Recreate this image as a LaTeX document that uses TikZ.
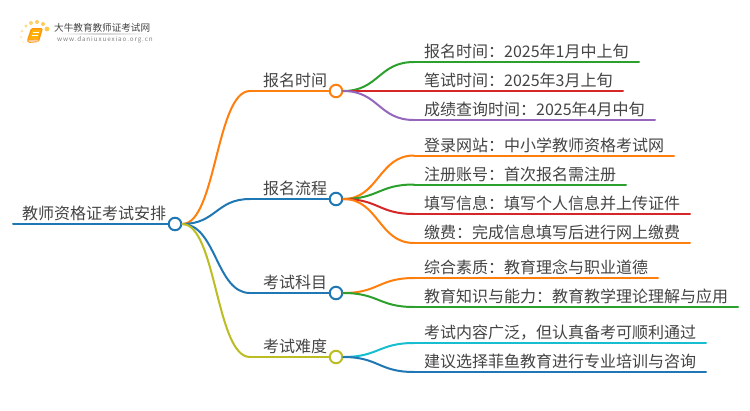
\documentclass[tikz,border=0pt]{standalone}
\usepackage{fontspec}
\setmainfont{Noto Sans CJK SC}
\usetikzlibrary{calc}
\definecolor{cOrange}{HTML}{FF7F0E}
\definecolor{cBlue}{HTML}{1F77B4}
\definecolor{cGreen}{HTML}{2CA02C}
\definecolor{cRed}{HTML}{D62728}
\definecolor{cPurple}{HTML}{9467BD}
\definecolor{cOlive}{HTML}{BCBD22}
\definecolor{cCyan}{HTML}{17BECF}
\definecolor{cText}{HTML}{444444}
\definecolor{cDot}{HTML}{FFC94D}
\tikzset{
  x=1pt,y=-1pt,
  lab/.style={anchor=base west,inner sep=0pt,yshift=-0.7pt,font=\fontsize{16}{16}\selectfont,text=cText},
  hub/.style={circle,draw=#1,fill=white,line width=2pt,minimum size=12.5pt,inner sep=0pt},
  wire/.style={draw=#1,line width=2pt,line cap=round},
}
\newcommand{\curve}[3]{% colour, from node, to coordinate
  \draw[wire=#1] (#2.east) .. controls ($(#2.east)!0.5!(#2.east -| #3)$) and ($(#3)!0.5!(#3 -| #2.east)$) .. (#3);}
\begin{document}
\begin{tikzpicture}
\useasboundingbox (0,0) rectangle (750,410);
\fill[white] (0,0) rectangle (750,410);
% logo
\foreach \px/\py/\r/\o in {47/29/2.4/1,43/24/2/.95,37/22/2/.9,31/23/2/.8,26/26/1.7/.7,22/31/1.5/.5,21/37/1.3/.35,23/42/1.2/.25}
  \fill[cDot,opacity=\o] (\px,\py) circle (\r);
\fill[cOrange!80!yellow,rounded corners=1.5pt] (31,28) -- (43,28) -- (39,42) -- (28,43) -- (27,40) -- cycle;
\fill[white!60!cOrange] (28.5,40) -- (38.5,39.5) -- (38,41.5) -- (28.5,42) -- cycle;
\fill[cOrange!60!yellow] (32,29.5) -- (41,29.5) -- (38,39) -- (29,39) -- cycle;
\draw[white,line width=.6pt] (32.5,32.5) -- (39,32.5);
\draw[white,line width=.6pt] (32,35) -- (38,35);
\shade[left color=white,right color=white,middle color=gray!35] (57,33.2) rectangle (148,34);
\node[anchor=base west,inner sep=0pt,font=\fontsize{9.6}{10}\selectfont,text=cText] (logoa) at (54,31) {大牛教育教师证考试网};
\node[anchor=base west,inner sep=0pt,font=\fontsize{6.3}{6}\selectfont\addfontfeature{LetterSpace=14},text=gray] (logob) at (57,41.5) {www.daniuxuexiao.org.cn};
% root
\node[lab] (root) at (22,219) {教师资格证考试安排};
\coordinate (r0) at (13,224);
\node[hub=cBlue] (c0) at (175,224) {};
% branches
\node[lab] (t1) at (263,86) {报名时间};
\node[lab] (t2) at (263,194) {报名流程};
\node[lab] (t3) at (263,288) {考试科目};
\node[lab] (t4) at (263,352) {考试难度};
\coordinate (s1) at (250,91);
\coordinate (s2) at (250,199);
\coordinate (s3) at (250,293);
\coordinate (s4) at (250,357);
% leaves
\foreach \n/\y/\e in {a/62/639,b/91/623,c/120/655,d/155.5/674,e/184.5/626,f/214/690,g/243/690,h/278/658,i/307/738,j/343/706,k/372/706}{
  \coordinate (\n s) at (414,\y);
  \coordinate (\n e) at (\e,\y);
}
\node[lab] (la) at (424,57) {报名时间：2025年1月中上旬};
\node[lab] (lb) at (424,86) {笔试时间：2025年3月上旬};
\node[lab] (lc) at (424,115) {成绩查询时间：2025年4月中旬};
\node[lab] (ld) at (424,151) {登录网站：中小学教师资格考试网};
\node[lab] (le) at (424,180) {注册账号：首次报名需注册};
\node[lab] (lf) at (424,209) {填写信息：填写个人信息并上传证件};
\node[lab] (lg) at (424,238) {缴费：完成信息填写后进行网上缴费};
\node[lab] (lh) at (424,273) {综合素质：教育理念与职业道德};
\node[lab] (li) at (424,302) {教育知识与能力：教育教学理论理解与应用};
\node[lab] (lj) at (424,338) {考试内容广泛，但认真备考可顺利通过};
\node[lab] (lk) at (424,367) {建议选择菲鱼教育进行专业培训与咨询};
% hubs
\node[hub=cOrange] (b1) at (336,91) {};
\node[hub=cBlue] (b2) at (336,199) {};
\node[hub=cBlue] (b3) at (336,293) {};
\node[hub=cOlive] (b4) at (336,357) {};
% connectors
\draw[wire=cBlue] (r0) -- (c0.west);
\curve{cOrange}{c0}{s1}
\curve{cBlue}{c0}{s2}
\curve{cBlue}{c0}{s3}
\curve{cOlive}{c0}{s4}
\draw[wire=cOrange] (s1) -- (b1.west);
\draw[wire=cBlue] (s2) -- (b2.west);
\draw[wire=cBlue] (s3) -- (b3.west);
\draw[wire=cOlive] (s4) -- (b4.west);
\curve{cGreen}{b1}{as}
\curve{cRed}{b1}{bs}
\curve{cPurple}{b1}{cs}
\curve{cOrange}{b2}{ds}
\curve{cGreen}{b2}{es}
\curve{cRed}{b2}{fs}
\curve{cOrange}{b2}{gs}
\curve{cOrange}{b3}{hs}
\curve{cGreen}{b3}{is}
\curve{cCyan}{b4}{js}
\curve{cBlue}{b4}{ks}
\draw[wire=cGreen] (as) -- (ae);
\draw[wire=cRed] (bs) -- (be);
\draw[wire=cPurple] (cs) -- (ce);
\draw[wire=cOrange] (ds) -- (de);
\draw[wire=cGreen] (es) -- (ee);
\draw[wire=cRed] (fs) -- (fe);
\draw[wire=cOrange] (gs) -- (ge);
\draw[wire=cOrange] (hs) -- (he);
\draw[wire=cGreen] (is) -- (ie);
\draw[wire=cCyan] (js) -- (je);
\draw[wire=cBlue] (ks) -- (ke);
\end{tikzpicture}
\end{document}
